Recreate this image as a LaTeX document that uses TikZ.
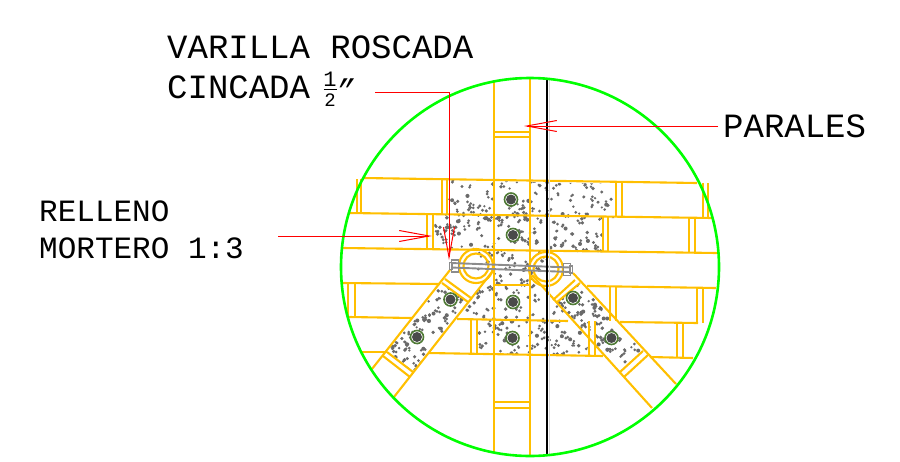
\documentclass[tikz,border=0pt]{standalone}
\usepackage{fontspec}
\setmainfont{Liberation Mono}
\usetikzlibrary{arrows.meta}
\definecolor{board}{HTML}{FFBF00}
\definecolor{boltgreen}{HTML}{4F7A35}
\definecolor{boltgrey}{HTML}{4A4A4A}
\definecolor{mortar}{HTML}{6A6A6A}
\definecolor{steel}{HTML}{8C8C8C}
\newcommand{\mortardots}[5]{%
  \foreach \i in {1,...,#5}{%
    \pgfmathsetmacro\px{#1+rnd*#3}%
    \pgfmathsetmacro\py{#2+rnd*#4}%
    \pgfmathsetmacro\pr{1.2+rnd*0.9}%
    \pgfmathsetmacro\qx{\px+2*(rnd-0.5)*3.5}%
    \pgfmathsetmacro\qy{\py+2*(rnd-0.5)*3.5}%
    \fill[mortar] (\px,\py) circle[radius=\pr pt];
    \ifodd\i \fill[mortar] (\qx,\qy) circle[radius=1.5pt];\fi
  }}
\tikzset{
  x=1pt,y=-1pt,
  boardline/.style={draw=board,line width=2.1pt},
  redline/.style={draw=red,line width=1pt},
  redarrow/.style={redline,-{Straight Barb[length=30pt,width=11pt,line width=1pt]}},
  label/.style={anchor=base west,inner sep=0pt,font=\fontsize{34}{34}\selectfont},
  smalllabel/.style={anchor=base west,inner sep=0pt,font=\fontsize{31}{31}\selectfont},
  fraclabel/.style={anchor=center,inner sep=0pt,font=\fontsize{22}{22}\selectfont},
  bolt/.style={circle,draw=boltgreen,line width=1.6pt,fill=white,minimum size=13pt,inner sep=0pt,
    path picture={\fill[boltgrey] (path picture bounding box.center) circle[radius=5pt];}},
  pipe/.style={circle,draw=board,line width=2.1pt,inner sep=0pt},
  nut/.style={draw=steel,line width=1.9pt,fill=none,inner sep=0pt}
}
\begin{document}
\begin{tikzpicture}
\useasboundingbox (0,0) rectangle (900,461);
% mortar
\pgfmathsetseed{11}
\begin{scope}
\clip (447,180)--(616,184)--(616,218)--(603,218)--(603,252)--(548,252)--(548,270)--(532,275)--(589,338)--(589,356)--(477,354)--(477,319)--(457,319)--(492,272)--(470,270)--(470,249)--(433,249)--(433,214)--(447,214)--cycle;
\mortardots{433}{179}{184}{178}{520}
\end{scope}
\begin{scope}
\clip (442,283)--(468,302)--(413,372)--(387,352)--cycle;
\mortardots{385}{282}{85}{92}{160}
\end{scope}
\begin{scope}
\clip (556,303)--(580,283)--(643,351)--(620,372)--cycle;
\mortardots{555}{282}{90}{92}{160}
\end{scope}
% boards, horizontal
\draw[boardline] (363,178)--(697,183);
\draw[boardline] (349,213)--(712,218);
\draw[boardline] (343,248)--(717,253);
\draw[boardline] (342,283)--(440,284);
\draw[boardline] (494,285)--(530,285);
\draw[boardline] (587,286)--(716,288);
\draw[boardline] (349,317)--(412,318);
\draw[boardline] (457,319)--(568,321);
\draw[boardline] (620,322)--(698,323);
\draw[boardline] (362,352)--(387,352);
\draw[boardline] (428,353)--(603,356);
\draw[boardline] (650,357)--(693,358);
% boards, end joints
\draw[boardline] (357,179)--(357,213) (361,179)--(361,213);
\draw[boardline] (442,179)--(442,214) (447,179)--(447,214);
\draw[boardline] (616,183)--(616,217) (622,183)--(622,217);
\draw[boardline] (703,183)--(703,218) (708,183)--(708,218);
\draw[boardline] (427,214)--(427,249) (433,214)--(433,249);
\draw[boardline] (603,217)--(603,252) (608,217)--(608,252);
\draw[boardline] (689,218)--(689,253) (695,218)--(695,253);
\draw[boardline] (348,283)--(348,317) (355,283)--(355,317);
\draw[boardline] (610,287)--(610,321) (616,287)--(616,321);
\draw[boardline] (697,288)--(697,323) (703,288)--(703,323);
\draw[boardline] (471,319)--(471,353) (477,319)--(477,354);
\draw[boardline] (589,321)--(589,356) (595,321)--(595,356);
\draw[boardline] (677,323)--(677,358) (683,323)--(683,358);
% vertical posts
\draw[boardline] (494,80)--(494,452) (530,78)--(530,456);
\draw[boardline] (494,132)--(530,132) (494,137)--(530,137);
\draw[boardline] (494,402)--(530,402) (494,408)--(530,408);
% diagonal braces
\draw[boardline] (450,270)--(372,369) (492,272)--(394,397);
\draw[boardline] (445,279)--(471,298) (442,283)--(468,302);
\draw[boardline] (387,352)--(413,372) (383,356)--(410,377);
\draw[boardline] (532,275)--(652,408) (573,273)--(676,384);
\draw[boardline] (553,300)--(575,280) (556,303)--(580,283);
\draw[boardline] (620,372)--(643,351) (624,377)--(648,355);
% pipes
\node[pipe,minimum size=34pt] (pipeL) at (476,266) {};
\node[pipe,minimum size=25pt] (pipeLi) at (476,266) {};
\node[pipe,minimum size=34pt] (pipeR) at (546,269) {};
\node[pipe,minimum size=25pt] (pipeRi) at (546,269) {};
% bolts
\node[bolt] (b1) at (511,199.5) {};
\node[bolt] (b2) at (513,235) {};
\node[bolt] (b3) at (513,302) {};
\node[bolt] (b4) at (512.5,338) {};
\node[bolt] (b5) at (450.5,299.5) {};
\node[bolt] (b6) at (417,337) {};
\node[bolt] (b7) at (573,298) {};
\node[bolt] (b8) at (611.5,338) {};
% threaded rod
\node[nut,minimum width=7pt,minimum height=12pt] (nutL) at (455,266) {};
\node[nut,minimum width=3pt,minimum height=7pt] (nutLb) at (451,266) {};
\node[nut,minimum width=7pt,minimum height=12pt] (nutR) at (567,269.5) {};
\node[nut,minimum width=3pt,minimum height=7pt] (nutRb) at (571,269.5) {};
\draw[steel,line width=1.9pt] (451,263)--(570,267.5) (451,267.5)--(570,272);
% black line
\draw[black!15,line width=1.2pt] (549.5,78)--(549.5,456);
\draw[black,line width=2.4pt] (547,78)--(547,456);
% circle
\node[circle,draw=green,line width=2.6pt,minimum size=378pt,inner sep=0pt] (detail) at (530,267) {};
% labels
\node[label] (varilla) at (167,58) {VARILLA ROSCADA};
\node[label] (cincada) at (167,98.5) {CINCADA};
\node[fraclabel] (num) at (330,79) {1};
\node[fraclabel,font=\fontsize{19}{19}\selectfont] (den) at (330,100) {2};
\draw[black,line width=1.4pt] (323.5,89.5)--(337,89.5);
\node[fraclabel,font=\fontsize{30}{30}\selectfont\itshape] (inch) at (345,90) {"};
\node[label] (parales) at (723,137) {PARALES};
\node[smalllabel] (relleno) at (39,221) {RELLENO};
\node[smalllabel] (mortero) at (39,258) {MORTERO 1:3};
% leaders
\coordinate (vs) at (375,92);
\coordinate (vk) at (449,92);
\coordinate (vt) at (449,260);
\coordinate (ps) at (718,126);
\coordinate (pt) at (524,126);
\coordinate (rs) at (278,236);
\coordinate (rt) at (432,236);
\draw[redarrow] (vs)--(vk)--(vt);
\draw[redarrow] (ps)--(pt);
\draw[redarrow] (rs)--(rt);
\end{tikzpicture}
\end{document}
